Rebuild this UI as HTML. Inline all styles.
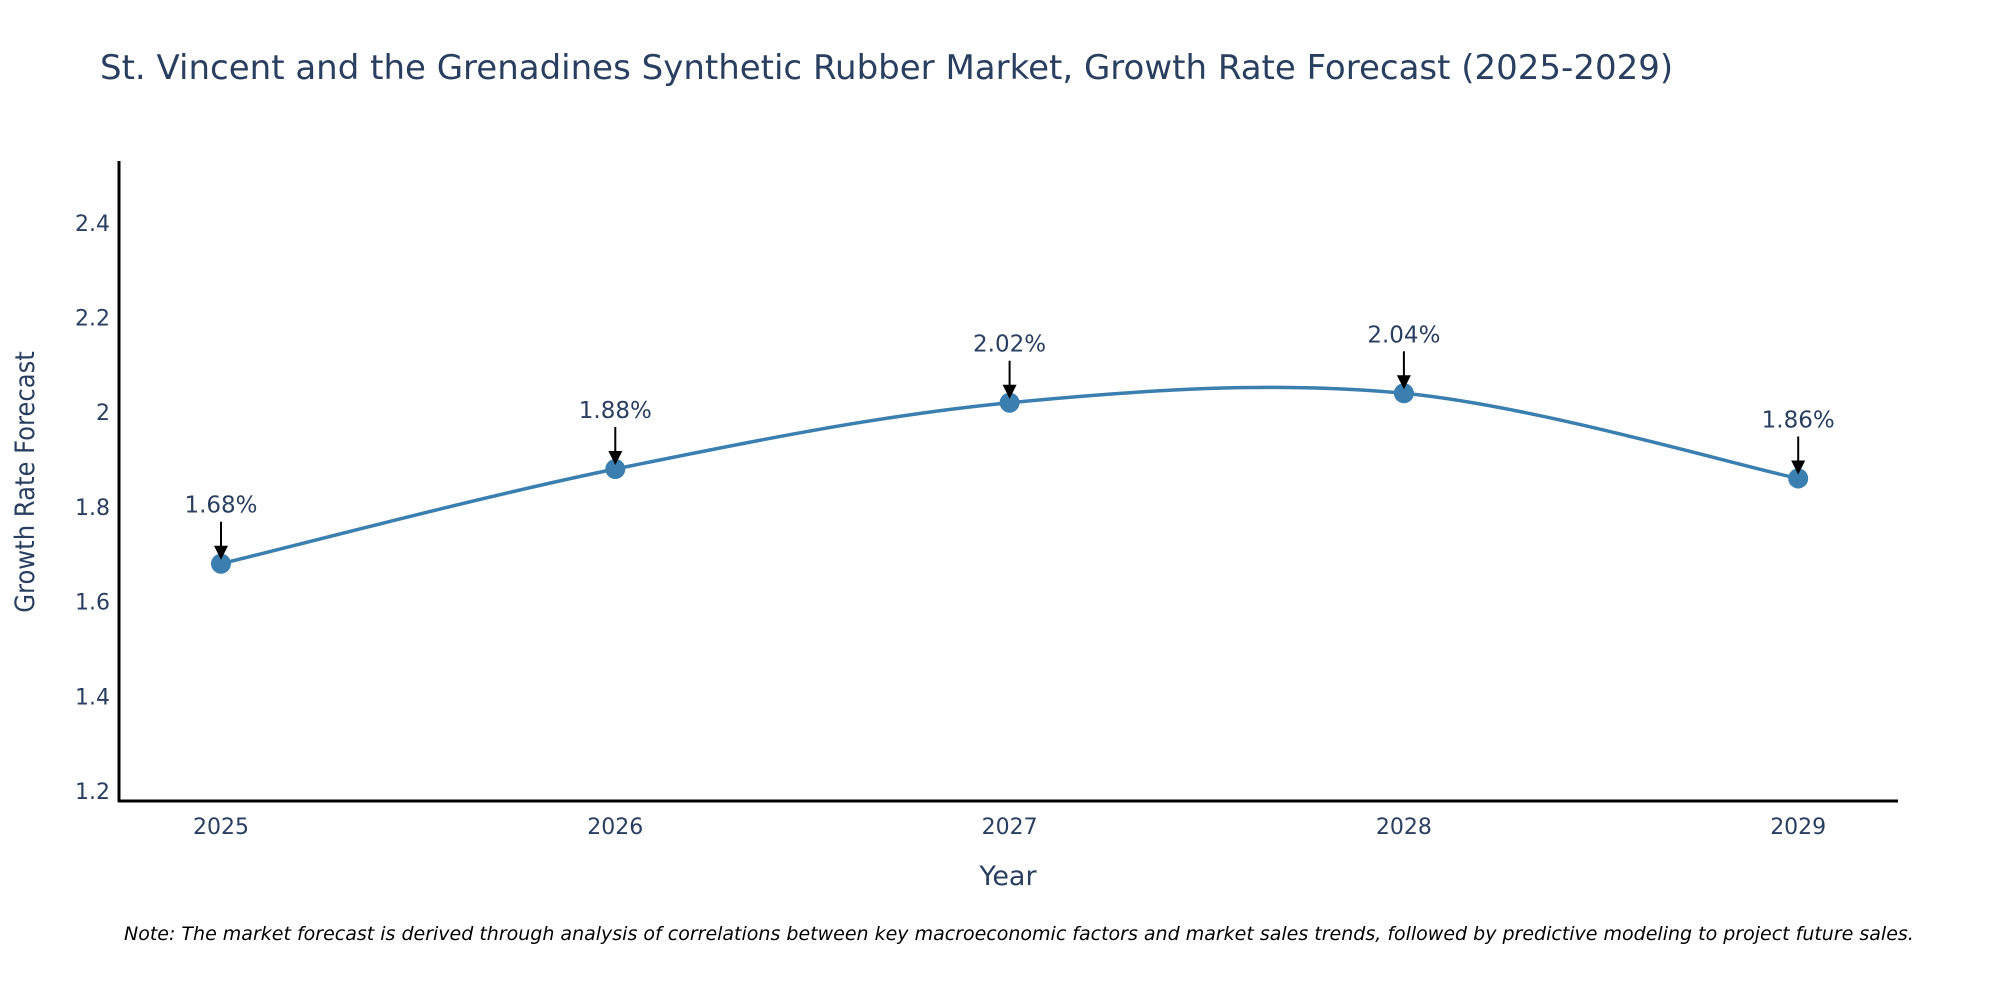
<!DOCTYPE html>
<html><head><meta charset="utf-8"><style>
body{margin:0;background:#fff;}
svg{display:block;font-family:"DejaVu Sans","Liberation Sans",sans-serif;}
</style></head><body>
<svg id="chart" width="2000" height="1000" viewBox="0 0 2000 1000">
<text x="100" y="79" font-size="34" fill="#2a3f5f">St. Vincent and the Grenadines Synthetic Rubber Market, Growth Rate Forecast (2025-2029)</text>
<g id="yticks"></g>
<g id="xticks"></g>
<path id="line" fill="none" stroke="#3a7fb0" stroke-width="3.5"/>
<g id="points"></g>
<g id="annots"></g>
<line x1="119" y1="161" x2="119" y2="802" stroke="#000" stroke-width="3"/>
<line x1="118" y1="801" x2="1898" y2="801" stroke="#000" stroke-width="3"/>
<text x="1008" y="885" font-size="27" fill="#2a3f5f" text-anchor="middle">Year</text>
<text transform="translate(34,482) rotate(-90)" font-size="27" fill="#2a3f5f" text-anchor="middle" font-stretch="condensed" font-family="DejaVu Sans Condensed, DejaVu Sans, sans-serif">Growth Rate Forecast</text>
<text x="124" y="940" font-size="19" font-style="italic" fill="#000">Note: The market forecast is derived through analysis of correlations between key macroeconomic factors and market sales trends, followed by predictive modeling to project future sales.</text>
</svg>
<script>
const years = [2025, 2026, 2027, 2028, 2029];
const values = [1.68, 1.88, 2.02, 2.04, 1.86];
const labels = ["1.68%", "1.88%", "2.02%", "2.04%", "1.86%"];
const yTicks = [1.2, 1.4, 1.6, 1.8, 2, 2.2, 2.4];
const NS = "http://www.w3.org/2000/svg";
function xs(v){ return 221 + (v - 2025) * 394.3; }
function ys(v){ return 791 - (v - 1.2) / 0.2 * 94.7; }
function mk(tag, attrs, parent, txt){ const e=document.createElementNS(NS,tag); for(const k in attrs) e.setAttribute(k,attrs[k]); if(txt!==undefined) e.textContent=txt; parent.appendChild(e); return e; }
const yt=document.getElementById('yticks');
yTicks.forEach(t=>{
  const e=mk('text',{x:110,y:ys(t)+8,'font-size':22,fill:'#2a3f5f','text-anchor':'end'},yt,String(t));
  
  
});
const xt=document.getElementById('xticks');
years.forEach(y=>{
  const e=mk('text',{x:xs(y),y:834,'font-size':22,fill:'#2a3f5f','text-anchor':'middle'},xt,String(y));
  
  
});
const P=years.map((y,i)=>[xs(y),ys(values[i])]);
let d='M'+P[0][0]+','+P[0][1];
for(let i=0;i<P.length-1;i++){
  const p0=P[Math.max(i-1,0)],p1=P[i],p2=P[i+1],p3=P[Math.min(i+2,P.length-1)];
  const c1=[p1[0]+(p2[0]-p0[0])/6,p1[1]+(p2[1]-p0[1])/6];
  const c2=[p2[0]-(p3[0]-p1[0])/6,p2[1]-(p3[1]-p1[1])/6];
  d+=' C'+c1+' '+c2+' '+p2;
}
document.getElementById('line').setAttribute('d',d);
const pts=document.getElementById('points'), an=document.getElementById('annots');
P.forEach((p,i)=>{
  const c=mk('circle',{cx:p[0],cy:p[1],r:10,fill:'#3a7fb0'},pts);
  
  
  const l=mk('line',{x1:p[0],y1:p[1]-42,x2:p[0],y2:p[1]-14,stroke:'#000','stroke-width':2},an);
  
  
  const h=mk('polygon',{points:`${p[0]-7},${p[1]-18} ${p[0]+7},${p[1]-18} ${p[0]},${p[1]-4}`,fill:'#000'},an);
  
  
  const t=mk('text',{x:p[0],y:p[1]-51,'font-size':23,fill:'#2a3f5f','text-anchor':'middle'},an,labels[i]);
  
  
});
</script>
</body></html>
